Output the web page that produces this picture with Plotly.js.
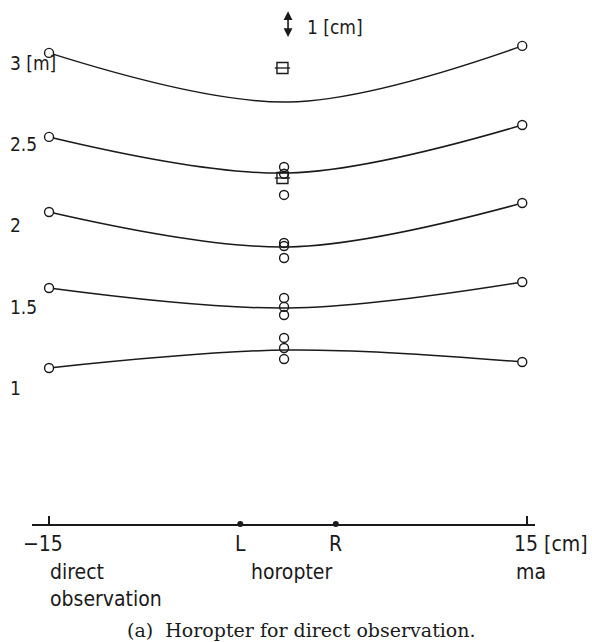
<!DOCTYPE html>
<html>
<head>
<meta charset="utf-8">
<script src="https://cdn.plot.ly/plotly-3.0.1.min.js"></script>
<style>
html,body{margin:0;padding:0;background:#fff;}
#chart{width:592px;height:642px;}
</style>
</head>
<body>
<div id="chart"></div>
<script>
// ---- data ----
const levels = [3, 2.5, 2, 1.5, 1];                 // viewing distance [m]
const levelLabels = ['3 [m]', '2.5', '2', '1.5', '1'];
const curveX = [-15, 0, 14.7];                       // lateral position [cm]
const curveLeft  = [3.062, 2.545, 2.083, 1.615, 1.123];
const curveMid   = [2.760, 2.323, 1.868, 1.492, 1.234];
const curveRight = [3.105, 2.618, 2.138, 1.652, 1.160];
const obsX = -0.25;
const obsCircleY = [2.360, 2.318, 2.188, 1.892, 1.874, 1.800, 1.554, 1.499, 1.449, 1.308, 1.246, 1.178];
const obsSquareY = [2.969, 2.292];
const eyeX = [-3, 3];
const eyeLabels = ['L', 'R'];
const tickVals = [-15, 15];
const tickLabels = ['\u221215', '15 [cm]'];

// ---- drawing ----
const INK = '#1a1a1a';
const SANS = 'DejaVu Sans Condensed, Liberation Sans Narrow, DejaVu Sans, sans-serif';
const AXIS_Y = 0.163;
const traces = [];

levels.forEach((lv, i) => {
  traces.push({
    x: curveX, y: [curveLeft[i], curveMid[i], curveRight[i]],
    mode: 'lines', line: {color: INK, width: 1.5, shape: 'spline', smoothing: 1},
    hoverinfo: 'skip', showlegend: false
  });
  traces.push({
    x: [curveX[0], curveX[2]], y: [curveLeft[i], curveRight[i]],
    mode: 'markers',
    marker: {symbol: 'circle', size: 9, color: '#fff', line: {color: INK, width: 1.4}},
    showlegend: false, cliponaxis: false
  });
});

traces.push({
  x: obsCircleY.map(() => obsX), y: obsCircleY, mode: 'markers',
  marker: {symbol: 'circle-open', size: 9, color: INK, line: {color: INK, width: 1.4}},
  showlegend: false, cliponaxis: false
});
traces.push({
  x: obsSquareY.map(() => obsX - 0.1), y: obsSquareY, mode: 'markers',
  marker: {symbol: 'square-open', size: 11, color: INK, line: {color: INK, width: 1.4}},
  showlegend: false, cliponaxis: false
});
traces.push({
  x: obsSquareY.map(() => obsX - 0.1), y: obsSquareY, mode: 'markers',
  marker: {symbol: 'line-ew', size: 11, color: INK, line: {color: INK, width: 1.3}},
  showlegend: false, cliponaxis: false
});
traces.push({
  x: eyeX, y: eyeX.map(() => AXIS_Y), mode: 'markers',
  marker: {symbol: 'circle', size: 6, color: INK},
  showlegend: false, cliponaxis: false
});

const ann = [];
levels.forEach((lv, i) => {
  ann.push({xref: 'paper', yref: 'y', x: -0.048, y: lv, xanchor: 'left', yanchor: 'middle',
    text: levelLabels[i], showarrow: false, font: {family: SANS, size: 19, color: INK}});
});
ann.push({xref: 'x', yref: 'paper', x: tickVals[0], y: 0, xanchor: 'center', yanchor: 'top',
  xshift: -6, yshift: -6, text: tickLabels[0], showarrow: false, font: {family: SANS, size: 21, color: INK}});
ann.push({xref: 'x', yref: 'paper', x: tickVals[1], y: 0, xanchor: 'left', yanchor: 'top',
  xshift: -15, yshift: -6, text: tickLabels[1], showarrow: false, font: {family: SANS, size: 21, color: INK}});
eyeX.forEach((ex, i) => {
  ann.push({xref: 'x', yref: 'paper', x: ex, y: 0, xanchor: 'center', yanchor: 'top',
    yshift: -6, text: eyeLabels[i], showarrow: false, font: {family: SANS, size: 21, color: INK}});
});
ann.push({xref: 'x', yref: 'paper', x: tickVals[0], y: 0, xanchor: 'left', yanchor: 'top', align: 'left',
  xshift: -1, yshift: -34, text: 'direct<br>observation', showarrow: false, font: {family: SANS, size: 21, color: INK}});
ann.push({xref: 'x', yref: 'paper', x: 0, y: 0, xanchor: 'center', yanchor: 'top',
  xshift: 3, yshift: -34, text: 'horopter', showarrow: false, font: {family: SANS, size: 21, color: INK}});
ann.push({xref: 'x', yref: 'paper', x: tickVals[1], y: 0, xanchor: 'center', yanchor: 'top',
  xshift: 4, yshift: -34, text: 'ma', showarrow: false, font: {family: SANS, size: 21, color: INK}});
// 1 cm scale bar
ann.push({xref: 'x', yref: 'y', axref: 'x', ayref: 'y', x: 0, y: 3.318, ax: 0, ay: 3.150,
  text: '', showarrow: true, arrowside: 'end+start', arrowhead: 2, arrowsize: 1.1, arrowwidth: 1.6,
  arrowcolor: INK, standoff: 0, startstandoff: 0});
ann.push({xref: 'x', yref: 'y', x: 1.05, y: 3.222, xanchor: 'left', yanchor: 'middle',
  text: '1 [cm]', showarrow: false, font: {family: SANS, size: 19, color: INK}});
// caption
ann.push({xref: 'paper', yref: 'paper', x: 0.535, y: 0, xanchor: 'center', yanchor: 'middle',
  yshift: -106, text: '(a)\u00a0 Horopter for direct observation.', showarrow: false,
  font: {family: 'DejaVu Serif, Liberation Serif, serif', size: 19, color: INK}});

const layout = {
  width: 592, height: 642,
  margin: {l: 32, r: 57, t: 10, b: 118},
  paper_bgcolor: '#fff', plot_bgcolor: '#fff',
  showlegend: false,
  xaxis: {range: [-16.07, 15.5], showgrid: false, zeroline: false, showline: true,
    linecolor: INK, linewidth: 1.5, ticks: 'inside', tickvals: tickVals, ticklen: 8,
    tickwidth: 1.4, tickcolor: INK, showticklabels: false, fixedrange: true},
  yaxis: {range: [AXIS_Y, 3.326], visible: false, fixedrange: true},
  annotations: ann
};

Plotly.newPlot('chart', traces, layout, {displayModeBar: false, staticPlot: true});
</script>
</body>
</html>
